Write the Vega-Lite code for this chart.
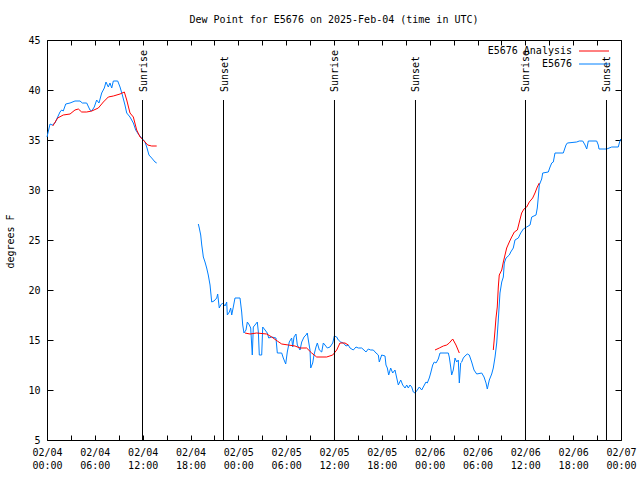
{
 "$schema": "https://vega.github.io/schema/vega-lite/v6.json",
 "width": 574, "height": 400,
 "autosize": {"type": "none"},
 "padding": {"left": 47, "top": 40, "right": 19, "bottom": 40},
 "background": "white",
 "title": {"text": "Dew Point for E5676 on 2025-Feb-04 (time in UTC)", "font": "DejaVu Sans Mono", "fontSize": 10, "fontWeight": "normal", "offset": 10, "color": "black"},
 "config": {
  "view": {"stroke": "black", "strokeWidth": 1},
  "axis": {"labelFont": "DejaVu Sans Mono", "labelFontSize": 10, "labelColor": "black", "tickColor": "black", "domain": false, "grid": false, "titleFont": "DejaVu Sans Mono", "titleFontSize": 10, "titleFontWeight": "normal", "titleColor": "black", "labelOverlap": false, "labelFlush": false, "labelBound": false}
 },
 "datasets": {
  "events": [
   {"h": 11.98, "e": "Sunrise"}, {"h": 22.14, "e": "Sunset"}, {"h": 36.06, "e": "Sunrise"},
   {"h": 46.22, "e": "Sunset"}, {"h": 60.02, "e": "Sunrise"}, {"h": 70.18, "e": "Sunset"}
  ],
  "series": [
   {"s":"E5676","g":1,"h":0,"v":35.3},{"s":"E5676","g":1,"h":0.38,"v":36.6},{"s":"E5676","g":1,"h":0.66,"v":36.5},{"s":"E5676","g":1,"h":1.0,"v":36.7},{"s":"E5676","g":1,"h":1.34,"v":37.3},{"s":"E5676","g":1,"h":1.63,"v":37.8},{"s":"E5676","g":1,"h":1.84,"v":38.0},{"s":"E5676","g":1,"h":2.04,"v":37.9},{"s":"E5676","g":1,"h":2.35,"v":38.6},{"s":"E5676","g":1,"h":2.89,"v":38.7},{"s":"E5676","g":1,"h":3.51,"v":38.9},{"s":"E5676","g":1,"h":4.14,"v":38.9},{"s":"E5676","g":1,"h":4.43,"v":38.7},{"s":"E5676","g":1,"h":4.98,"v":38.7},{"s":"E5676","g":1,"h":5.39,"v":38.0},{"s":"E5676","g":1,"h":5.61,"v":37.9},{"s":"E5676","g":1,"h":5.93,"v":38.3},{"s":"E5676","g":1,"h":6.23,"v":39.0},{"s":"E5676","g":1,"h":6.52,"v":38.7},{"s":"E5676","g":1,"h":6.86,"v":39.7},{"s":"E5676","g":1,"h":7.19,"v":40.2},{"s":"E5676","g":1,"h":7.40,"v":40.8},{"s":"E5676","g":1,"h":7.69,"v":40.3},{"s":"E5676","g":1,"h":7.90,"v":40.7},{"s":"E5676","g":1,"h":8.12,"v":40.2},{"s":"E5676","g":1,"h":8.32,"v":40.9},{"s":"E5676","g":1,"h":8.87,"v":40.9},{"s":"E5676","g":1,"h":9.16,"v":40.3},{"s":"E5676","g":1,"h":9.45,"v":39.5},{"s":"E5676","g":1,"h":9.78,"v":38.5},{"s":"E5676","g":1,"h":10.0,"v":37.7},{"s":"E5676","g":1,"h":10.41,"v":37.3},{"s":"E5676","g":1,"h":10.83,"v":36.7},{"s":"E5676","g":1,"h":11.13,"v":36.0},{"s":"E5676","g":1,"h":11.45,"v":35.6},{"s":"E5676","g":1,"h":11.88,"v":35.2},{"s":"E5676","g":1,"h":12.29,"v":34.8},{"s":"E5676","g":1,"h":12.51,"v":34.3},{"s":"E5676","g":1,"h":12.79,"v":33.5},{"s":"E5676","g":1,"h":13.13,"v":33.2},{"s":"E5676","g":1,"h":13.55,"v":32.8},{"s":"E5676","g":1,"h":13.76,"v":32.7},
   {"s":"E5676","g":2,"h":18.98,"v":26.6},{"s":"E5676","g":2,"h":19.10,"v":26.2},{"s":"E5676","g":2,"h":19.28,"v":25.5},{"s":"E5676","g":2,"h":19.41,"v":24.5},{"s":"E5676","g":2,"h":19.53,"v":23.8},{"s":"E5676","g":2,"h":19.61,"v":23.3},{"s":"E5676","g":2,"h":19.82,"v":22.8},{"s":"E5676","g":2,"h":20.03,"v":22.2},{"s":"E5676","g":2,"h":20.23,"v":21.5},{"s":"E5676","g":2,"h":20.45,"v":20.5},{"s":"E5676","g":2,"h":20.66,"v":18.8},{"s":"E5676","g":2,"h":20.95,"v":18.9},{"s":"E5676","g":2,"h":21.29,"v":19.2},{"s":"E5676","g":2,"h":21.41,"v":19.6},{"s":"E5676","g":2,"h":21.61,"v":18.2},{"s":"E5676","g":2,"h":21.79,"v":18.5},{"s":"E5676","g":2,"h":22.04,"v":18.7},{"s":"E5676","g":2,"h":22.33,"v":18.4},{"s":"E5676","g":2,"h":22.54,"v":18.8},{"s":"E5676","g":2,"h":22.62,"v":17.5},{"s":"E5676","g":2,"h":22.87,"v":17.8},{"s":"E5676","g":2,"h":23.04,"v":18.2},{"s":"E5676","g":2,"h":23.17,"v":17.5},{"s":"E5676","g":2,"h":23.37,"v":18.3},{"s":"E5676","g":2,"h":23.58,"v":19.2},{"s":"E5676","g":2,"h":24.21,"v":19.2},{"s":"E5676","g":2,"h":24.42,"v":17.8},{"s":"E5676","g":2,"h":24.55,"v":16.5},{"s":"E5676","g":2,"h":24.71,"v":15.7},{"s":"E5676","g":2,"h":24.96,"v":16.0},{"s":"E5676","g":2,"h":25.13,"v":16.8},{"s":"E5676","g":2,"h":25.38,"v":16.5},{"s":"E5676","g":2,"h":25.55,"v":16.2},{"s":"E5676","g":2,"h":25.75,"v":13.5},{"s":"E5676","g":2,"h":25.88,"v":16.3},{"s":"E5676","g":2,"h":26.09,"v":16.5},{"s":"E5676","g":2,"h":26.38,"v":16.8},{"s":"E5676","g":2,"h":26.51,"v":15.8},{"s":"E5676","g":2,"h":26.63,"v":13.5},{"s":"E5676","g":2,"h":26.93,"v":13.5},{"s":"E5676","g":2,"h":27.06,"v":16.3},{"s":"E5676","g":2,"h":27.35,"v":16.0},{"s":"E5676","g":2,"h":27.63,"v":15.7},{"s":"E5676","g":2,"h":27.81,"v":15.2},{"s":"E5676","g":2,"h":28.19,"v":15.3},{"s":"E5676","g":2,"h":28.72,"v":15.2},{"s":"E5676","g":2,"h":28.89,"v":13.7},{"s":"E5676","g":2,"h":29.44,"v":13.7},{"s":"E5676","g":2,"h":29.64,"v":13.2},{"s":"E5676","g":2,"h":29.94,"v":12.6},{"s":"E5676","g":2,"h":30.14,"v":13.8},{"s":"E5676","g":2,"h":30.39,"v":14.8},{"s":"E5676","g":2,"h":30.69,"v":15.2},{"s":"E5676","g":2,"h":30.82,"v":14.3},{"s":"E5676","g":2,"h":30.98,"v":15.3},{"s":"E5676","g":2,"h":31.23,"v":15.6},{"s":"E5676","g":2,"h":31.40,"v":14.5},{"s":"E5676","g":2,"h":31.74,"v":14.0},{"s":"E5676","g":2,"h":31.95,"v":14.8},{"s":"E5676","g":2,"h":32.24,"v":15.3},{"s":"E5676","g":2,"h":32.49,"v":15.5},{"s":"E5676","g":2,"h":32.65,"v":15.7},{"s":"E5676","g":2,"h":32.78,"v":15.0},{"s":"E5676","g":2,"h":32.99,"v":14.0},{"s":"E5676","g":2,"h":33.08,"v":12.2},{"s":"E5676","g":2,"h":33.33,"v":12.7},{"s":"E5676","g":2,"h":33.49,"v":13.5},{"s":"E5676","g":2,"h":33.74,"v":14.3},{"s":"E5676","g":2,"h":33.91,"v":14.7},{"s":"E5676","g":2,"h":34.16,"v":14.0},{"s":"E5676","g":2,"h":34.46,"v":13.8},{"s":"E5676","g":2,"h":34.66,"v":14.7},{"s":"E5676","g":2,"h":34.87,"v":14.5},{"s":"E5676","g":2,"h":35.16,"v":14.2},{"s":"E5676","g":2,"h":35.50,"v":14.3},{"s":"E5676","g":2,"h":35.84,"v":14.7},{"s":"E5676","g":2,"h":36.04,"v":15.4},{"s":"E5676","g":2,"h":36.34,"v":15.3},{"s":"E5676","g":2,"h":36.54,"v":15.0},{"s":"E5676","g":2,"h":36.84,"v":14.8},{"s":"E5676","g":2,"h":37.17,"v":14.7},{"s":"E5676","g":2,"h":37.51,"v":14.4},{"s":"E5676","g":2,"h":37.79,"v":14.5},{"s":"E5676","g":2,"h":38.01,"v":14.2},{"s":"E5676","g":2,"h":38.42,"v":14.0},{"s":"E5676","g":2,"h":38.76,"v":14.3},{"s":"E5676","g":2,"h":39.05,"v":14.2},{"s":"E5676","g":2,"h":39.47,"v":14.2},{"s":"E5676","g":2,"h":39.76,"v":14.0},{"s":"E5676","g":2,"h":40.01,"v":13.8},{"s":"E5676","g":2,"h":40.30,"v":14.1},{"s":"E5676","g":2,"h":40.60,"v":14.0},{"s":"E5676","g":2,"h":40.93,"v":14.0},{"s":"E5676","g":2,"h":41.27,"v":13.7},{"s":"E5676","g":2,"h":41.56,"v":13.5},{"s":"E5676","g":2,"h":41.68,"v":12.8},{"s":"E5676","g":2,"h":41.98,"v":13.5},{"s":"E5676","g":2,"h":42.40,"v":13.4},{"s":"E5676","g":2,"h":42.52,"v":12.5},{"s":"E5676","g":2,"h":42.69,"v":12.2},{"s":"E5676","g":2,"h":42.86,"v":11.5},{"s":"E5676","g":2,"h":43.11,"v":12.2},{"s":"E5676","g":2,"h":43.36,"v":11.7},{"s":"E5676","g":2,"h":43.65,"v":12.0},{"s":"E5676","g":2,"h":43.87,"v":11.2},{"s":"E5676","g":2,"h":44.07,"v":10.5},{"s":"E5676","g":2,"h":44.37,"v":11.0},{"s":"E5676","g":2,"h":44.62,"v":10.5},{"s":"E5676","g":2,"h":44.91,"v":10.2},{"s":"E5676","g":2,"h":45.12,"v":10.5},{"s":"E5676","g":2,"h":45.32,"v":10.2},{"s":"E5676","g":2,"h":45.53,"v":10.5},{"s":"E5676","g":2,"h":45.75,"v":10.3},{"s":"E5676","g":2,"h":45.95,"v":9.8},{"s":"E5676","g":2,"h":46.16,"v":9.7},{"s":"E5676","g":2,"h":46.45,"v":10.0},{"s":"E5676","g":2,"h":46.70,"v":10.3},{"s":"E5676","g":2,"h":47.00,"v":10.0},{"s":"E5676","g":2,"h":47.20,"v":10.3},{"s":"E5676","g":2,"h":47.54,"v":10.8},{"s":"E5676","g":2,"h":47.70,"v":10.7},{"s":"E5676","g":2,"h":47.95,"v":11.2},{"s":"E5676","g":2,"h":48.13,"v":11.7},{"s":"E5676","g":2,"h":48.38,"v":12.5},{"s":"E5676","g":2,"h":48.58,"v":12.8},{"s":"E5676","g":2,"h":48.80,"v":12.7},{"s":"E5676","g":2,"h":49.08,"v":13.1},{"s":"E5676","g":2,"h":49.30,"v":13.7},{"s":"E5676","g":2,"h":49.92,"v":13.7},{"s":"E5676","g":2,"h":50.34,"v":13.7},{"s":"E5676","g":2,"h":50.46,"v":13.3},{"s":"E5676","g":2,"h":50.64,"v":12.3},{"s":"E5676","g":2,"h":50.76,"v":11.5},{"s":"E5676","g":2,"h":50.96,"v":12.0},{"s":"E5676","g":2,"h":51.18,"v":13.2},{"s":"E5676","g":2,"h":51.39,"v":12.8},{"s":"E5676","g":2,"h":51.59,"v":13.0},{"s":"E5676","g":2,"h":51.72,"v":10.7},{"s":"E5676","g":2,"h":51.89,"v":12.7},{"s":"E5676","g":2,"h":52.02,"v":12.8},{"s":"E5676","g":2,"h":52.22,"v":13.2},{"s":"E5676","g":2,"h":52.43,"v":13.4},{"s":"E5676","g":2,"h":52.72,"v":13.6},{"s":"E5676","g":2,"h":52.97,"v":13.5},{"s":"E5676","g":2,"h":53.27,"v":12.8},{"s":"E5676","g":2,"h":53.56,"v":12.0},{"s":"E5676","g":2,"h":53.90,"v":11.6},{"s":"E5676","g":2,"h":54.53,"v":11.7},{"s":"E5676","g":2,"h":54.82,"v":11.3},{"s":"E5676","g":2,"h":55.07,"v":10.7},{"s":"E5676","g":2,"h":55.23,"v":10.1},{"s":"E5676","g":2,"h":55.48,"v":11.0},{"s":"E5676","g":2,"h":55.78,"v":11.6},{"s":"E5676","g":2,"h":55.98,"v":12.2},{"s":"E5676","g":2,"h":56.20,"v":13.3},{"s":"E5676","g":2,"h":56.41,"v":14.7},{"s":"E5676","g":2,"h":56.61,"v":17.0},{"s":"E5676","g":2,"h":56.82,"v":19.7},{"s":"E5676","g":2,"h":57.04,"v":20.8},{"s":"E5676","g":2,"h":57.24,"v":21.3},{"s":"E5676","g":2,"h":57.36,"v":22.7},{"s":"E5676","g":2,"h":57.58,"v":23.2},{"s":"E5676","g":2,"h":57.99,"v":23.5},{"s":"E5676","g":2,"h":58.17,"v":23.8},{"s":"E5676","g":2,"h":58.49,"v":24.2},{"s":"E5676","g":2,"h":58.70,"v":25.0},{"s":"E5676","g":2,"h":59.12,"v":25.2},{"s":"E5676","g":2,"h":59.42,"v":25.7},{"s":"E5676","g":2,"h":59.75,"v":26.1},{"s":"E5676","g":2,"h":60.17,"v":26.3},{"s":"E5676","g":2,"h":60.59,"v":26.5},{"s":"E5676","g":2,"h":60.80,"v":27.3},{"s":"E5676","g":2,"h":61.34,"v":27.5},{"s":"E5676","g":2,"h":61.50,"v":28.2},{"s":"E5676","g":2,"h":61.63,"v":29.3},{"s":"E5676","g":2,"h":61.75,"v":30.5},{"s":"E5676","g":2,"h":62.05,"v":31.1},{"s":"E5676","g":2,"h":62.18,"v":31.7},{"s":"E5676","g":2,"h":62.88,"v":31.8},{"s":"E5676","g":2,"h":63.10,"v":32.3},{"s":"E5676","g":2,"h":63.31,"v":32.7},{"s":"E5676","g":2,"h":63.51,"v":32.8},{"s":"E5676","g":2,"h":63.72,"v":33.7},{"s":"E5676","g":2,"h":64.76,"v":33.7},{"s":"E5676","g":2,"h":65.10,"v":34.5},{"s":"E5676","g":2,"h":65.27,"v":34.7},{"s":"E5676","g":2,"h":66.44,"v":34.8},{"s":"E5676","g":2,"h":66.77,"v":34.9},{"s":"E5676","g":2,"h":67.20,"v":34.9},{"s":"E5676","g":2,"h":67.49,"v":34.5},{"s":"E5676","g":2,"h":67.70,"v":34.1},{"s":"E5676","g":2,"h":67.90,"v":34.9},{"s":"E5676","g":2,"h":68.95,"v":34.9},{"s":"E5676","g":2,"h":69.15,"v":34.5},{"s":"E5676","g":2,"h":69.24,"v":34.1},{"s":"E5676","g":2,"h":70.21,"v":34.1},{"s":"E5676","g":2,"h":70.83,"v":34.3},{"s":"E5676","g":2,"h":71.66,"v":34.3},{"s":"E5676","g":2,"h":71.79,"v":34.7},{"s":"E5676","g":2,"h":71.96,"v":35.1},
   {"s":"E5676 Analysis","g":3,"h":0.72,"v":36.4},{"s":"E5676 Analysis","g":3,"h":1.34,"v":37.2},{"s":"E5676 Analysis","g":3,"h":2.04,"v":37.5},{"s":"E5676 Analysis","g":3,"h":2.89,"v":37.6},{"s":"E5676 Analysis","g":3,"h":3.51,"v":38.0},{"s":"E5676 Analysis","g":3,"h":3.93,"v":38.1},{"s":"E5676 Analysis","g":3,"h":4.35,"v":37.8},{"s":"E5676 Analysis","g":3,"h":4.98,"v":37.8},{"s":"E5676 Analysis","g":3,"h":5.61,"v":37.9},{"s":"E5676 Analysis","g":3,"h":6.44,"v":38.2},{"s":"E5676 Analysis","g":3,"h":7.07,"v":38.8},{"s":"E5676 Analysis","g":3,"h":7.69,"v":39.3},{"s":"E5676 Analysis","g":3,"h":8.32,"v":39.4},{"s":"E5676 Analysis","g":3,"h":9.16,"v":39.6},{"s":"E5676 Analysis","g":3,"h":9.70,"v":39.8},{"s":"E5676 Analysis","g":3,"h":10.0,"v":39.0},{"s":"E5676 Analysis","g":3,"h":10.41,"v":37.7},{"s":"E5676 Analysis","g":3,"h":10.83,"v":37.3},{"s":"E5676 Analysis","g":3,"h":11.25,"v":36.0},{"s":"E5676 Analysis","g":3,"h":11.67,"v":35.3},{"s":"E5676 Analysis","g":3,"h":12.08,"v":35.0},{"s":"E5676 Analysis","g":3,"h":12.63,"v":34.5},{"s":"E5676 Analysis","g":3,"h":13.13,"v":34.4},{"s":"E5676 Analysis","g":3,"h":13.76,"v":34.4},
   {"s":"E5676 Analysis","g":4,"h":24.84,"v":15.7},{"s":"E5676 Analysis","g":4,"h":25.46,"v":15.6},{"s":"E5676 Analysis","g":4,"h":26.30,"v":15.7},{"s":"E5676 Analysis","g":4,"h":27.56,"v":15.6},{"s":"E5676 Analysis","g":4,"h":28.19,"v":15.3},{"s":"E5676 Analysis","g":4,"h":28.89,"v":14.9},{"s":"E5676 Analysis","g":4,"h":29.44,"v":14.6},{"s":"E5676 Analysis","g":4,"h":30.27,"v":14.5},{"s":"E5676 Analysis","g":4,"h":31.11,"v":14.4},{"s":"E5676 Analysis","g":4,"h":31.74,"v":14.2},{"s":"E5676 Analysis","g":4,"h":32.57,"v":14.2},{"s":"E5676 Analysis","g":4,"h":33.20,"v":13.7},{"s":"E5676 Analysis","g":4,"h":33.83,"v":13.3},{"s":"E5676 Analysis","g":4,"h":35.08,"v":13.3},{"s":"E5676 Analysis","g":4,"h":35.84,"v":13.5},{"s":"E5676 Analysis","g":4,"h":36.34,"v":14.0},{"s":"E5676 Analysis","g":4,"h":36.75,"v":14.7},{"s":"E5676 Analysis","g":4,"h":37.38,"v":14.7},{"s":"E5676 Analysis","g":4,"h":37.79,"v":14.5},
   {"s":"E5676 Analysis","g":5,"h":48.67,"v":14.0},{"s":"E5676 Analysis","g":5,"h":49.21,"v":14.2},{"s":"E5676 Analysis","g":5,"h":49.71,"v":14.4},{"s":"E5676 Analysis","g":5,"h":50.14,"v":14.5},{"s":"E5676 Analysis","g":5,"h":50.46,"v":14.7},{"s":"E5676 Analysis","g":5,"h":50.89,"v":15.1},{"s":"E5676 Analysis","g":5,"h":51.30,"v":14.5},{"s":"E5676 Analysis","g":5,"h":51.72,"v":13.7},
   {"s":"E5676 Analysis","g":6,"h":55.98,"v":14.0},{"s":"E5676 Analysis","g":6,"h":56.07,"v":14.8},{"s":"E5676 Analysis","g":6,"h":56.20,"v":16.0},{"s":"E5676 Analysis","g":6,"h":56.32,"v":17.2},{"s":"E5676 Analysis","g":6,"h":56.48,"v":18.3},{"s":"E5676 Analysis","g":6,"h":56.61,"v":20.3},{"s":"E5676 Analysis","g":6,"h":56.73,"v":21.5},{"s":"E5676 Analysis","g":6,"h":57.04,"v":22.0},{"s":"E5676 Analysis","g":6,"h":57.24,"v":22.8},{"s":"E5676 Analysis","g":6,"h":57.45,"v":23.5},{"s":"E5676 Analysis","g":6,"h":57.66,"v":24.2},{"s":"E5676 Analysis","g":6,"h":57.99,"v":24.8},{"s":"E5676 Analysis","g":6,"h":58.29,"v":25.3},{"s":"E5676 Analysis","g":6,"h":58.62,"v":25.8},{"s":"E5676 Analysis","g":6,"h":59.00,"v":26.0},{"s":"E5676 Analysis","g":6,"h":59.25,"v":26.8},{"s":"E5676 Analysis","g":6,"h":59.54,"v":27.7},{"s":"E5676 Analysis","g":6,"h":59.83,"v":28.1},{"s":"E5676 Analysis","g":6,"h":60.17,"v":28.3},{"s":"E5676 Analysis","g":6,"h":60.50,"v":28.8},{"s":"E5676 Analysis","g":6,"h":60.92,"v":29.2},{"s":"E5676 Analysis","g":6,"h":61.21,"v":29.7},{"s":"E5676 Analysis","g":6,"h":61.50,"v":30.3},{"s":"E5676 Analysis","g":6,"h":61.75,"v":30.7}
  ]
 },
 "layer": [
  {
   "data": {"name": "series"},
   "mark": {"type": "line", "strokeWidth": 1},
   "encoding": {
    "x": {"field": "h", "type": "quantitative", "scale": {"domain": [0, 72], "nice": false, "zero": false},
          "axis": {"orient": "bottom", "title": null, "values": [0,3,6,9,12,15,18,21,24,27,30,33,36,39,42,45,48,51,54,57,60,63,66,69,72], "tickSize": -5, "labelPadding": 12, "labelLineHeight": 13, "labelBaseline": "top",
                   "labelExpr": "datum.value % 6 == 0 ? ['02/0' + (4 + floor(datum.value / 24)), (datum.value % 24 < 10 ? '0' : '') + (datum.value % 24) + ':00'] : ''"}},
    "y": {"field": "v", "type": "quantitative", "scale": {"domain": [5, 45], "nice": false, "zero": false},
          "axis": {"orient": "left", "values": [5,10,15,20,25,30,35,40,45], "tickSize": -6, "labelPadding": 13, "title": "degrees F", "titleX": -37, "titleY": 201, "titleAngle": 270, "titleAlign": "center", "titleBaseline": "middle"}},
    "color": {"field": "s", "type": "nominal", "scale": {"domain": ["E5676 Analysis", "E5676"], "range": ["#ff0000", "#0080ff"]},
              "legend": {"title": null, "orient": "none", "legendX": 545, "legendY": 6, "symbolType": "M-5,0H5", "symbolSize": 36, "symbolStrokeWidth": 1, "rowPadding": 3, "labelAlign": "right", "labelOffset": -27, "symbolOffset": -3, "labelFont": "DejaVu Sans Mono", "labelFontSize": 10, "labelColor": "black", "padding": 0}},
    "detail": {"field": "g"}
   }
  },
  {
   "data": {"name": "events"},
   "mark": {"type": "rule", "color": "black", "strokeWidth": 1},
   "encoding": {
    "x": {"field": "h", "type": "quantitative", "axis": null},
    "y": {"datum": 5, "type": "quantitative", "axis": null},
    "y2": {"datum": 39}
   }
  },
  {
   "data": {"name": "events"},
   "mark": {"type": "text", "angle": 270, "align": "left", "baseline": "middle", "dy": 1, "font": "DejaVu Sans Mono", "fontSize": 10, "color": "black"},
   "encoding": {
    "x": {"field": "h", "type": "quantitative", "axis": null},
    "y": {"datum": 39.8, "type": "quantitative", "axis": null},
    "text": {"field": "e"}
   }
  },
  {
   "data": {"name": "events"},
   "mark": {"type": "point", "opacity": 0},
   "encoding": {
    "x": {"field": "h", "type": "quantitative", "axis": {"orient": "top", "title": null, "labels": false, "values": [0,3,6,9,12,15,18,21,24,27,30,33,36,39,42,45,48,51,54,57,60,63,66,69,72], "tickSize": -5}},
    "y": {"datum": 5, "type": "quantitative", "axis": {"orient": "right", "title": null, "labels": false, "values": [5,10,15,20,25,30,35,40,45], "tickSize": -6}}
   }
  }
 ],
 "resolve": {"axis": {"x": "independent", "y": "independent"}}
}
